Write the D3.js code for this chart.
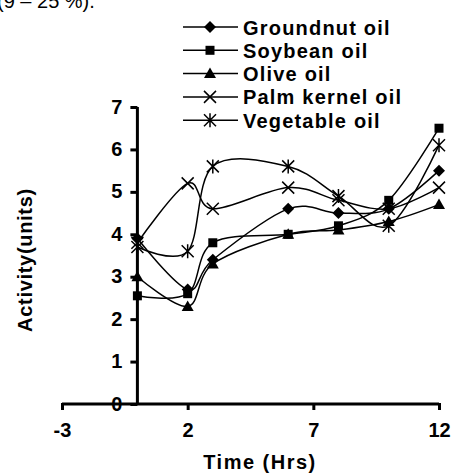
<!DOCTYPE html>
<html>
<head>
<meta charset="utf-8">
<script src="https://cdn.jsdelivr.net/npm/d3@7"></script>
<style>
  body { margin: 0; background: #fff; }
  text { font-family: Arial, "Liberation Sans", sans-serif; }
</style>
</head>
<body>
<svg id="chart" width="454" height="474"></svg>
<script>
// values
const hours = [0, 2, 3, 6, 8, 10, 12];
const groundnut = [3.9, 2.7, 3.4, 4.6, 4.5, 4.6, 5.5];
const soybean = [2.55, 2.6, 3.8, 4.0, 4.2, 4.8, 6.5];
const olive = [3.0, 2.3, 3.3, 4.0, 4.1, 4.3, 4.7];
const palmKernel = [3.8, 5.2, 4.6, 5.1, 4.8, 4.6, 5.1];
const vegetable = [3.7, 3.6, 5.6, 5.6, 4.9, 4.2, 6.1];
const seriesNames = ['Groundnut oil', 'Soybean oil', 'Olive oil', 'Palm kernel oil', 'Vegetable oil'];
const markerTypes = ['diamond', 'square', 'triangle', 'cross', 'star'];
const xTicks = [-3, 2, 7, 12];
const yTicks = [0, 1, 2, 3, 4, 5, 6, 7];

const allSeries = [groundnut, soybean, olive, palmKernel, vegetable];

const fontSize = 20;
const svg = d3.select('#chart');

const x = d3.scaleLinear().domain([-3, 12]).range([62, 439]);
const y = d3.scaleLinear().domain([0, 7]).range([404, 107]);

// caption left over from the page above, cut by the top edge like the source
svg.append('text')
  .attr('x', -3).attr('y', 8)
  .attr('font-size', fontSize)
  .text('(9 – 25 %).');

// x axis
const xAxis = svg.append('g')
  .attr('transform', `translate(0, ${y(0)})`)
  .call(d3.axisBottom(x).tickValues(xTicks).tickSize(6).tickPadding(13).tickFormat(d3.format('d')));
xAxis.select('.domain').attr('d', `M${x(-3)},0H${x(12)}`).attr('stroke-width', 3);
xAxis.selectAll('.tick line').attr('stroke-width', 3).attr('y1', -1);
xAxis.selectAll('.tick text')
  .attr('font-size', fontSize).attr('font-weight', 'bold').attr('font-family', 'Arial, "Liberation Sans", sans-serif')
  .text(d => d < 0 ? '-' + Math.abs(d) : d);

// y axis
const yAxis = svg.append('g')
  .attr('transform', `translate(${x(0)}, 0)`)
  .call(d3.axisLeft(y).tickValues(yTicks).tickSize(7).tickPadding(8).tickFormat(d3.format('d')));
yAxis.select('.domain').attr('d', `M0,${y(7)}V${y(0)}`).attr('stroke-width', 3);
yAxis.selectAll('.tick line').attr('stroke-width', 3);
yAxis.selectAll('.tick text')
  .attr('font-size', fontSize).attr('font-weight', 'bold').attr('font-family', 'Arial, "Liberation Sans", sans-serif')
  .attr('dy', '0.3em');

// axis titles
svg.append('text')
  .attr('x', 260).attr('y', 469)
  .attr('text-anchor', 'middle')
  .attr('font-size', fontSize).attr('font-weight', 'bold')
  .attr('letter-spacing', 1.5)
  .text('Time (Hrs)');

svg.append('text')
  .attr('transform', 'translate(32, 260) rotate(-90)')
  .attr('text-anchor', 'middle')
  .attr('font-size', fontSize).attr('font-weight', 'bold')
  .attr('letter-spacing', 0.7)
  .text('Activity(units)');

function marker(g, type) {
  if (type === 'diamond') {
    g.append('path').attr('d', 'M0,-6L6,0L0,6L-6,0Z').attr('fill', '#000');
  } else if (type === 'square') {
    g.append('rect').attr('x', -4.5).attr('y', -4.5).attr('width', 9).attr('height', 9).attr('fill', '#000');
  } else if (type === 'triangle') {
    g.append('path').attr('d', 'M0,-6L6,4.5L-6,4.5Z').attr('fill', '#000');
  } else if (type === 'cross') {
    g.append('path').attr('d', 'M-6,-6L6,6M-6,6L6,-6').attr('stroke', '#000').attr('stroke-width', 1.5);
  } else {
    g.append('path').attr('d', 'M-6,-6L6,6M-6,6L6,-6M0,-7V7').attr('stroke', '#000').attr('stroke-width', 1.5);
  }
}

const line = d3.line()
  .x((d, i) => x(hours[i]))
  .y(d => y(d))
  .curve(d3.curveCardinal.tension(0));

const plot = svg.append('g');
allSeries.forEach((vals, s) => {
  plot.append('path')
    .datum(vals)
    .attr('d', line)
    .attr('fill', 'none')
    .attr('stroke', '#000')
    .attr('stroke-width', 1.5);
  vals.forEach((v, i) => {
    const g = plot.append('g').attr('transform', `translate(${x(hours[i])}, ${y(v)})`);
    marker(g, markerTypes[s]);
  });
});

// legend
const legend = svg.append('g');
seriesNames.forEach((name, i) => {
  const ly = 27 + i * 23.3;
  const g = legend.append('g').attr('transform', `translate(0, ${ly})`);
  g.append('line').attr('x1', 183).attr('x2', 238).attr('y1', 0).attr('y2', 0)
    .attr('stroke', '#000').attr('stroke-width', 1.5);
  marker(g.append('g').attr('transform', 'translate(210, 0)'), markerTypes[i]);
  g.append('text')
    .attr('x', 243).attr('y', 7.5)
    .attr('font-size', fontSize).attr('font-weight', 'bold')
    .attr('letter-spacing', 1.2)
    .text(name);
});
</script>
</body>
</html>
